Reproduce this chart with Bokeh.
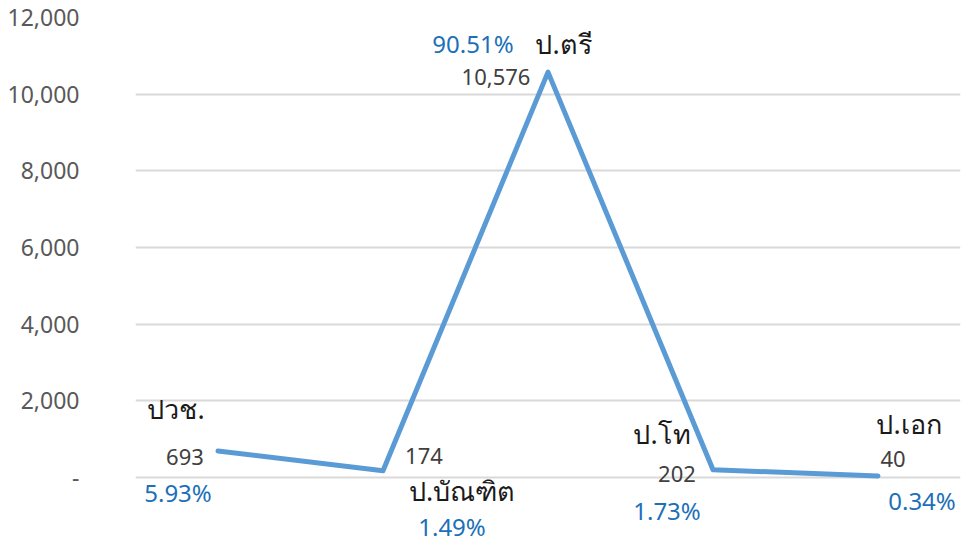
from bokeh.plotting import figure
from bokeh.models import ColumnDataSource, FixedTicker, Range1d, LabelSet
from bokeh.core.properties import value
from bokeh.embed import file_html
from bokeh.resources import INLINE

categories = ["ปวช.", "ป.บัณฑิต", "ป.ตรี", "ป.โท", "ป.เอก"]
values = [693, 174, 10576, 202, 40]
percents = ["5.93%", "1.49%", "90.51%", "1.73%", "0.34%"]
y_ticks = [0, 2000, 4000, 6000, 8000, 10000, 12000]
y_tick_labels = ["-", "2,000", "4,000", "6,000", "8,000", "10,000", "12,000"]

xs = [i + 0.5 for i in range(len(categories))]

# label offsets in pixels (dx right, dy up)
cat_dx = [-42, 79, 16, -51, 31]
cat_dy = [42, -20, 29, 36, 52]
val_dx = [-33, 41, -52, -36, 15]
val_dy = [-6, 15, -5, -4, 17]
pct_dx = [-40, 69, -75, -46, 44]
pct_dy = [-42, -56, 29, -41, -25]

src = ColumnDataSource(dict(
    x=xs, y=values, cat=categories, pct=percents,
    val=[f"{v:,}" for v in values],
    cdx=cat_dx, cdy=cat_dy, vdx=val_dx, vdy=val_dy, pdx=pct_dx, pdy=pct_dy,
))

p = figure(width=962, height=545, output_backend="svg", toolbar_location=None,
           x_range=Range1d(0, len(categories)), y_range=Range1d(-1774, 12000),
           min_border_left=135, min_border_right=2, min_border_top=17, min_border_bottom=0)
p.outline_line_color = None
p.background_fill_color = "white"
p.border_fill_color = "white"

p.line("x", "y", source=src, line_color="#5B9BD5", line_width=5, line_cap="round", line_join="round")

p.xaxis.visible = False
p.xgrid.visible = False
p.ygrid.grid_line_color = "#D9D9D9"
p.ygrid.grid_line_width = 2
p.yaxis.ticker = FixedTicker(ticks=y_ticks)
p.yaxis.major_label_overrides = {t: l for t, l in zip(y_ticks, y_tick_labels)}
p.yaxis.axis_line_color = None
p.yaxis.major_tick_line_color = None
p.yaxis.minor_tick_line_color = None
p.yaxis.major_label_standoff = 50
p.yaxis.major_label_text_font = "Noto Sans"
p.yaxis.major_label_text_font_size = "23px"
p.yaxis.major_label_text_color = "#595959"

common = dict(source=src, text_align="center", text_baseline="middle", text_font=value("Noto Sans"))
p.add_layout(LabelSet(x="x", y="y", text="cat", x_offset="cdx", y_offset="cdy",
                      text_font_size="27px", text_color="#1A1A1A", **common))
p.add_layout(LabelSet(x="x", y="y", text="val", x_offset="vdx", y_offset="vdy",
                      text_font_size="22px", text_color="#404040", **common))
p.add_layout(LabelSet(x="x", y="y", text="pct", x_offset="pdx", y_offset="pdy",
                      text_font_size="24px", text_color="#1C70B8", **common))

open("out.html", "w").write(file_html(p, INLINE))
